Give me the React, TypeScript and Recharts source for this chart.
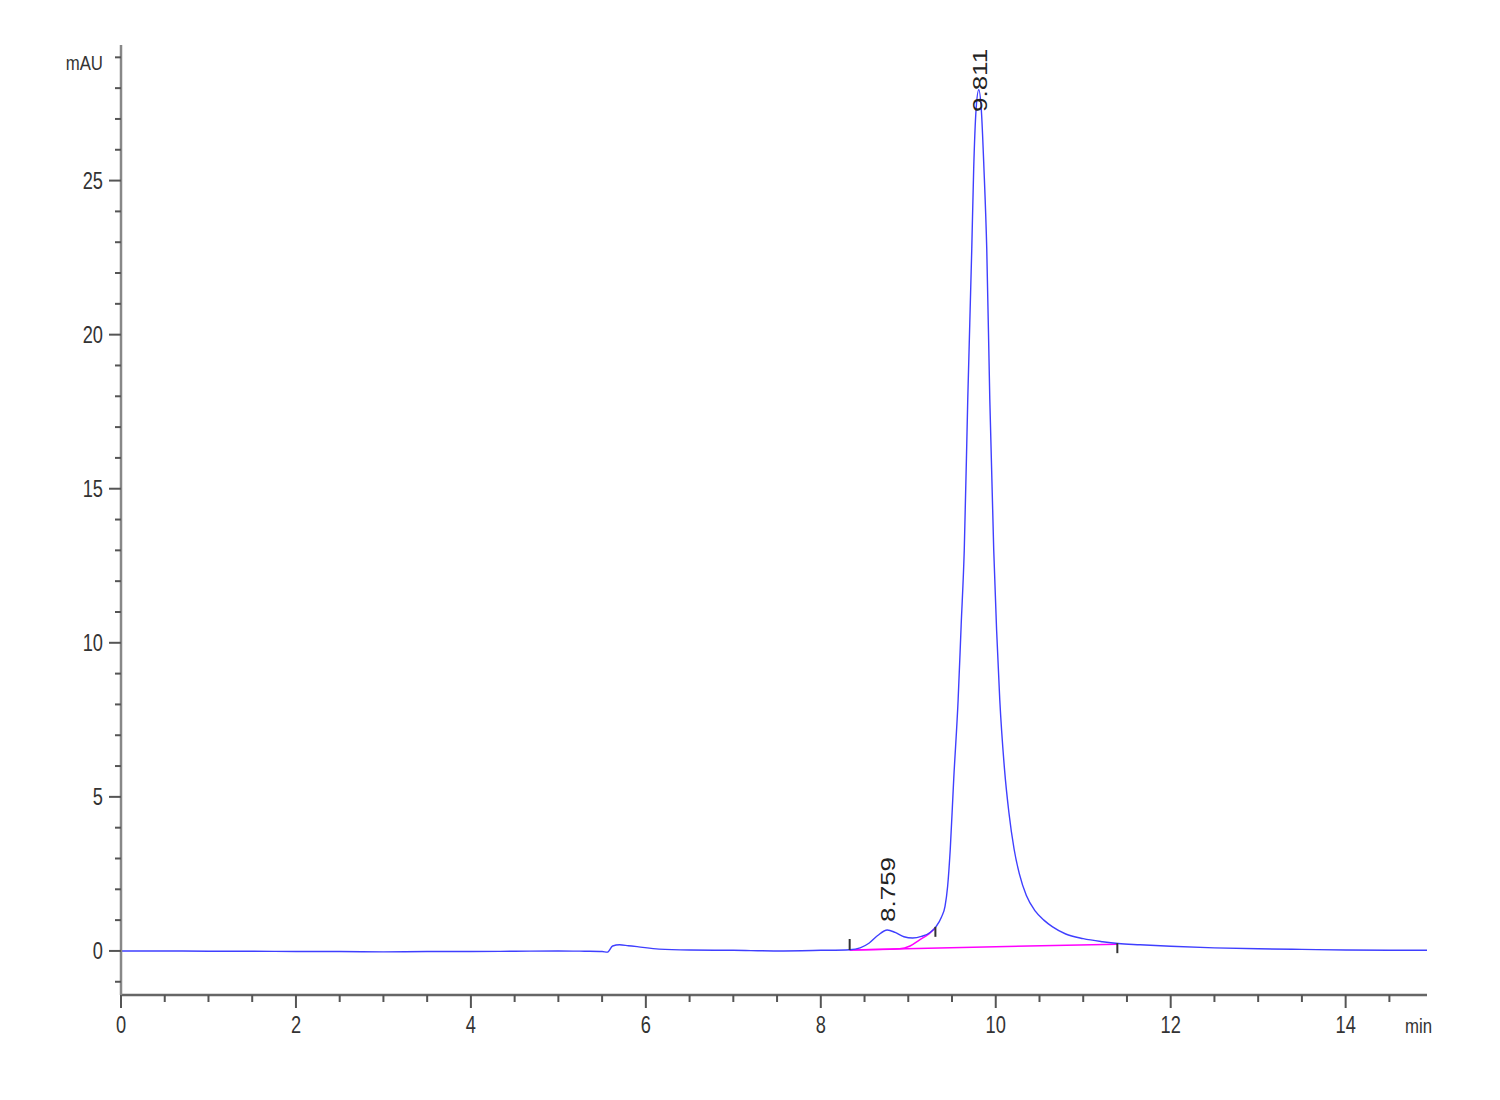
import React from "react"
import {
  ComposedChart,
  Line,
  Scatter,
  XAxis,
  YAxis,
} from "recharts"

// blue trace
const times = [
  0, 0.5, 1, 1.5, 2, 2.5, 3, 3.5, 4, 4.5, 5, 5.3, 5.5, 5.56, 5.62, 5.7, 5.8, 5.9,
  6.15, 6.5, 7, 7.5, 8, 8.33, 8.45, 8.55, 8.65, 8.76, 8.85, 8.95, 9.05, 9.15, 9.25,
  9.32, 9.38, 9.42, 9.45, 9.48, 9.52, 9.57, 9.605, 9.64, 9.68, 9.726, 9.748, 9.775,
  9.806, 9.835, 9.865, 9.897, 9.932, 9.977, 10.01, 10.046, 10.1, 10.15, 10.21,
  10.27, 10.35, 10.45, 10.55, 10.65, 10.8, 11, 11.22, 11.4, 11.65, 12, 12.5, 13,
  13.5, 14, 14.5, 14.93,
]
const mAU = [
  0, 0, -0.01, -0.01, -0.02, -0.02, -0.03, -0.02, -0.02, -0.01, 0, -0.01, -0.02,
  -0.04, 0.16, 0.2, 0.17, 0.14, 0.06, 0.03, 0.02, 0, 0.02, 0.04, 0.1, 0.25, 0.5,
  0.68, 0.6, 0.46, 0.42, 0.47, 0.6, 0.8, 1.1, 1.45, 2.1, 3.3, 5.6, 8.15, 10.6, 13,
  17.9, 22.8, 25.4, 27.3, 27.95, 27.3, 25.4, 22.8, 17.9, 13, 10.4, 8.15, 5.9, 4.5,
  3.3, 2.5, 1.8, 1.3, 1.0, 0.78, 0.55, 0.4, 0.3, 0.24, 0.2, 0.15, 0.1, 0.07, 0.05,
  0.03, 0.02, 0.02,
]

// integration baselines (magenta)
const baseTimes = [8.33, 11.39]
const baseValues = [0.03, 0.22]
const skimTimes = [8.33, 8.9, 9.02, 9.13, 9.22, 9.31]
const skimValues = [0.03, 0.07, 0.16, 0.36, 0.52, 0.75]

// peak start / end markers
const markTimes = [8.33, 9.31, 11.39]
const markValues = [0.03, 0.75, 0.22]
const markKinds = ["start", "end", "end"]

// retention time labels
const peakTimes = [8.759, 9.811]
const peakValues = [0.68, 27.95]
const peakLabels = ["8.759", "9.811"]

const yTicks = [
  -1, 0, 1, 2, 3, 4, 5, 6, 7, 8, 9, 10, 11, 12, 13, 14, 15, 16, 17, 18, 19, 20, 21,
  22, 23, 24, 25, 26, 27, 28, 29,
]
const xTicks = [
  0, 0.5, 1, 1.5, 2, 2.5, 3, 3.5, 4, 4.5, 5, 5.5, 6, 6.5, 7, 7.5, 8, 8.5, 9, 9.5,
  10, 10.5, 11, 11.5, 12, 12.5, 13, 13.5, 14, 14.5,
]

const trace = times.map((t, i) => ({ t, v: mAU[i] }))
const baseline = baseTimes.map((t, i) => ({ t, v: baseValues[i] }))
const skim = skimTimes.map((t, i) => ({ t, v: skimValues[i] }))
const marks = markTimes.map((t, i) => ({ t, v: markValues[i], kind: markKinds[i] }))
const peaks = peakTimes.map((t, i) => ({ t, v: peakValues[i], label: peakLabels[i] }))

const FONT = "'Liberation Sans', Arial, sans-serif"
const PLOT_TOP = 45

const YTick = (props: any) => {
  const { x, y, payload } = props
  const v = payload.value
  const major = v % 5 === 0
  return (
    <g>
      <line x1={x - (major ? 12 : 6)} x2={x} y1={y} y2={y} stroke="#555" strokeWidth={2} />
      {major && (
        <text
          transform={`translate(${x - 18},${y + 8}) scale(0.76,1)`}
          textAnchor="end"
          fontSize={24}
          fontFamily={FONT}
          fill="#333"
        >
          {v}
        </text>
      )}
    </g>
  )
}

const XTick = (props: any) => {
  const { x, y, payload } = props
  const v = payload.value
  const major = v % 2 === 0
  return (
    <g>
      <line x1={x} x2={x} y1={y} y2={y + (major ? 13 : 7)} stroke="#555" strokeWidth={2} />
      {major && (
        <text
          transform={`translate(${x},${y + 38}) scale(0.76,1)`}
          textAnchor="middle"
          fontSize={24}
          fontFamily={FONT}
          fill="#333"
        >
          {v}
        </text>
      )}
    </g>
  )
}

const YUnit = (props: any) => {
  const vb = props.viewBox || { x: 61, y: 45, width: 60, height: 950 }
  return (
    <text
      transform={`translate(${vb.x + vb.width - 18},${vb.y + 25}) scale(0.8,1)`}
      textAnchor="end"
      fontSize={21}
      fontFamily={FONT}
      fill="#333"
    >
      mAU
    </text>
  )
}

const XUnit = (props: any) => {
  const vb = props.viewBox || { x: 121, y: 995, width: 1306, height: 60 }
  return (
    <text
      transform={`translate(${vb.x + vb.width + 5},${vb.y + 38}) scale(0.8,1)`}
      textAnchor="end"
      fontSize={21}
      fontFamily={FONT}
      fill="#333"
    >
      min
    </text>
  )
}

const Mark = (props: any) => {
  const { cx, cy, payload } = props
  if (cx == null || cy == null) return <g />
  const up = payload.kind === "start"
  return (
    <line
      x1={cx}
      x2={cx}
      y1={up ? cy - 11 : cy - 1}
      y2={up ? cy : cy + 9}
      stroke="#333"
      strokeWidth={2}
    />
  )
}

const PeakLabel = (props: any) => {
  const { cx, cy, payload } = props
  if (cx == null || cy == null) return <g />
  // keep the label inside the plot when the peak is near the top
  const startY = Math.max(cy - 8, PLOT_TOP + 67)
  return (
    <text
      transform={`translate(${cx + 8},${startY}) scale(0.8,1) rotate(-90)`}
      textAnchor="start"
      fontSize={26}
      fontFamily={FONT}
      fill="#222"
    >
      {payload.label}
    </text>
  )
}

export default function App() {
  return (
    <div
      style={{
        position: "absolute",
        left: 0,
        top: 0,
        width: 1500,
        height: 1100,
        background: "#fff",
      }}
    >
      <ComposedChart
        width={1500}
        height={1100}
        data={trace}
        margin={{ top: 45, right: 73, left: 61, bottom: 45 }}
      >
        <XAxis
          dataKey="t"
          type="number"
          domain={[0, 14.93]}
          ticks={xTicks}
          interval={0}
          allowDataOverflow
          height={60}
          tickSize={0}
          tickMargin={0}
          tickLine={false}
          axisLine={{ stroke: "#666", strokeWidth: 2.5 }}
          tick={<XTick />}
          label={<XUnit />}
        />
        <YAxis
          type="number"
          domain={[-1.43, 29.4]}
          ticks={yTicks}
          interval={0}
          allowDataOverflow
          width={60}
          tickSize={0}
          tickMargin={0}
          tickLine={false}
          axisLine={{ stroke: "#888", strokeWidth: 2.5 }}
          tick={<YTick />}
          label={<YUnit />}
        />
        <Line
          data={baseline}
          dataKey="v"
          type="linear"
          stroke="#ff00ff"
          strokeWidth={1.5}
          dot={false}
          isAnimationActive={false}
        />
        <Line
          data={skim}
          dataKey="v"
          type="monotone"
          stroke="#ff00ff"
          strokeWidth={1.5}
          dot={false}
          isAnimationActive={false}
        />
        <Line
          dataKey="v"
          type="monotone"
          stroke="#3f3fff"
          strokeWidth={1.4}
          dot={false}
          isAnimationActive={false}
        />
        <Scatter data={marks} dataKey="v" shape={<Mark />} isAnimationActive={false} />
        <Scatter data={peaks} dataKey="v" shape={<PeakLabel />} isAnimationActive={false} />
      </ComposedChart>
    </div>
  )
}
